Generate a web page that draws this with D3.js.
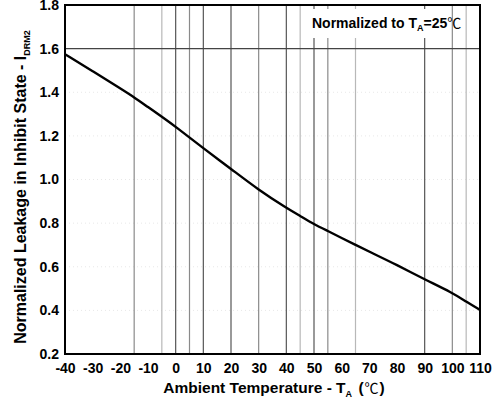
<!DOCTYPE html>
<html><head><meta charset="utf-8">
<script src="https://cdn.jsdelivr.net/npm/d3@7"></script>
<style>
body{margin:0;background:#fff;}
text{font-family:"Liberation Sans",Arial,sans-serif;font-weight:bold;fill:#000;}
</style></head>
<body>
<svg id="c" width="498" height="403"></svg>
<script>
const temps = [-40,-30,-20,-15,-10,-5,0,10,20,30,40,45,50,55,60,65,70,80,90,100,105,110];
const leakage = [1.574,1.497,1.417,1.377,1.332,1.288,1.242,1.143,1.049,0.952,0.870,0.833,0.795,0.764,0.732,0.700,0.669,0.608,0.542,0.481,0.440,0.402];
const xTicks = [-40,-30,-20,-10,0,10,20,30,40,50,60,70,80,90,100,110];
const yTicks = [0.2,0.4,0.6,0.8,1.0,1.2,1.4,1.6,1.8];
const darkGrid = [0,10,20,40,50,90];
const midGrid = [-15,5,30,55,100];
const lightGrid = [-5,45,65,105];
const faintH = [0.4,0.6,0.8,1.0,1.2,1.4];
const refLine = [1.6];

const W=498,H=403, m={l:65,r:18,t:5,b:49};
const svg=d3.select("#c");
const x=d3.scaleLinear().domain([-40,110]).range([m.l,W-m.r]);
const y=d3.scaleLinear().domain([0.2,1.8]).range([H-m.b,m.t]);

svg.append("g").selectAll("line").data(faintH).join("line")
 .attr("x1",x(-40)).attr("x2",x(110)).attr("y1",d=>y(d)).attr("y2",d=>y(d))
 .attr("stroke","#e8e8e8").attr("stroke-dasharray","1,3");

const vg=svg.append("g");
function vlines(arr,col){
 vg.selectAll(null).data(arr).join("line")
  .attr("x1",d=>x(d)).attr("x2",d=>x(d)).attr("y1",y(0.2)).attr("y2",y(1.8))
  .attr("stroke",col).attr("stroke-width",1.2);
}
vlines(darkGrid,"#555");
vlines(midGrid,"#8a8a8a");
vlines(lightGrid,"#b8b8b8");

svg.append("g").selectAll("line").data(refLine).join("line")
 .attr("x1",x(-40)).attr("x2",x(110)).attr("y1",d=>y(d)).attr("y2",d=>y(d))
 .attr("stroke","#444").attr("stroke-width",1.2);

svg.append("rect").attr("x",305).attr("y",9).attr("width",142).attr("height",29).attr("fill","#fff");
const ann=svg.append("text").attr("x",312).attr("y",28).style("font-size","14px");
ann.append("tspan").text("Normalized to T");
ann.append("tspan").text("A").attr("dy",3).style("font-size","9px");
ann.append("tspan").text("=25").attr("dy",-3);
ann.append("tspan").text("℃").style("font-family","'Noto Sans CJK SC'").style("font-weight","normal");

svg.append("path").datum(temps.map((t,i)=>[t,leakage[i]]))
 .attr("d",d3.line().x(d=>x(d[0])).y(d=>y(d[1])).curve(d3.curveBasis))
 .attr("fill","none").attr("stroke","#000").attr("stroke-width",2.4);

svg.append("rect").attr("x",m.l).attr("y",m.t).attr("width",W-m.r-m.l).attr("height",H-m.b-m.t)
 .attr("fill","none").attr("stroke","#000").attr("stroke-width",2);

const xa=svg.append("g").attr("transform",`translate(0,${H-m.b})`)
 .call(d3.axisBottom(x).tickValues(xTicks).tickSize(0).tickPadding(9).tickFormat(d=>String(d)));
xa.select(".domain").remove();
xa.selectAll("text").style("font-size","14px").style("font-family","'Liberation Sans',Arial").style("font-weight","bold").attr("fill","#000");

const ya=svg.append("g").attr("transform",`translate(${m.l},0)`)
 .call(d3.axisLeft(y).tickValues(yTicks).tickSize(0).tickPadding(6).tickFormat(d3.format(".1f")));
ya.select(".domain").remove();
ya.selectAll("text").style("font-size","14px").style("font-family","'Liberation Sans',Arial").style("font-weight","bold").attr("fill","#000");

const xt=svg.append("text").attr("x",274).attr("y",393).attr("text-anchor","middle").style("font-size","15.5px");
xt.append("tspan").text("Ambient Temperature - T");
xt.append("tspan").text("A").attr("dy",4).style("font-size","9px");
xt.append("tspan").text(" (").attr("dy",-4).attr("dx",2);
xt.append("tspan").text("℃").style("font-family","'Noto Sans CJK SC'").style("font-weight","normal").style("font-size","14px").attr("dx",1);
xt.append("tspan").text(")").attr("dx",1);

const yt=svg.append("text").attr("transform","translate(26,187) rotate(-90)").attr("text-anchor","middle").style("font-size","16px");
yt.append("tspan").text("Normalized Leakage in Inhibit State - I");
yt.append("tspan").text("DRM2").attr("dy",4).style("font-size","9px");
</script>
</body></html>
